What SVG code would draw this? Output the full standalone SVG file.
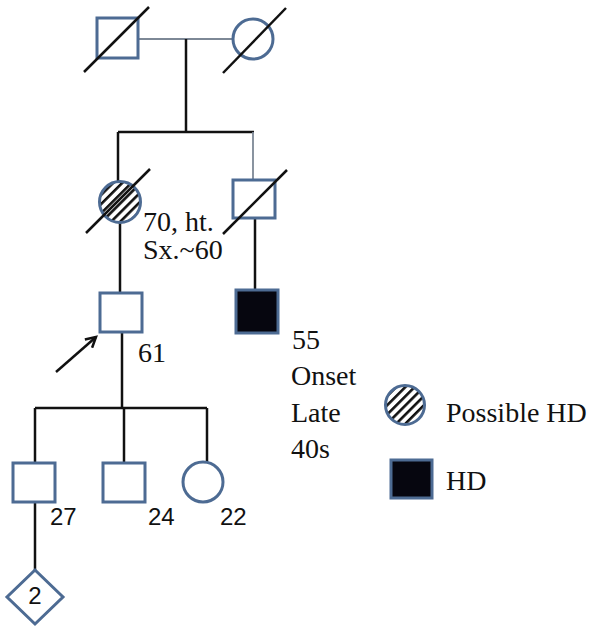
<svg xmlns="http://www.w3.org/2000/svg" width="594" height="627" viewBox="0 0 594 627">
<style>
.sym{fill:#fff;stroke:#4d6b93;stroke-width:3}
.aff{fill:#06060f;stroke:#4d6b93;stroke-width:3}
.ln{stroke:#111;stroke-width:2.5;fill:none}
.thin{stroke:#7d8896;stroke-width:1.8;fill:none}
.dec{stroke:#111;stroke-width:2.5}
.t{font-family:"Liberation Serif",serif;font-size:28px;fill:#111}
.s{font-family:"Liberation Sans",sans-serif;font-size:24px;fill:#111}
</style>
<defs>
<pattern id="hatch" patternUnits="userSpaceOnUse" width="6.5" height="6.5" patternTransform="rotate(-45)">
<rect width="6.5" height="6.5" fill="#fff"/>
<rect x="0" y="0" width="6.5" height="2.6" fill="#111"/>
</pattern>
<marker id="ah" markerWidth="14" markerHeight="14" refX="11" refY="7" orient="auto" markerUnits="userSpaceOnUse">
<path d="M1,1.5 L11,7 L1,12.5" fill="none" stroke="#111" stroke-width="2.5"/>
</marker>
</defs>
<g id="connectors">
<line class="thin" x1="138" y1="39" x2="233" y2="39"/>
<line class="ln" x1="186" y1="39" x2="186" y2="132"/>
<line class="ln" x1="118" y1="132" x2="254" y2="132"/>
<line class="ln" x1="118" y1="132" x2="118" y2="181"/>
<line class="thin" x1="253" y1="132" x2="253" y2="180"/>
<line class="ln" x1="120" y1="223" x2="120" y2="293"/>
<line class="ln" x1="255" y1="218" x2="255" y2="290"/>
<line class="ln" x1="122" y1="332" x2="122" y2="408"/>
<line class="ln" x1="35" y1="408" x2="207" y2="408"/>
<line class="ln" x1="124" y1="408" x2="124" y2="463"/>
<line class="ln" x1="35" y1="408" x2="35" y2="463"/>
<line class="ln" x1="207" y1="408" x2="207" y2="462"/>
<line class="ln" x1="35" y1="502" x2="35" y2="570"/>
<line class="ln" x1="56" y1="372" x2="96" y2="337" marker-end="url(#ah)"/>
</g>
<g id="grandfather">
<rect class="sym" x="97" y="18" width="41" height="40"/>
<line class="dec" x1="84" y1="72" x2="149" y2="7"/>
</g>
<g id="grandmother">
<circle class="sym" cx="253" cy="39" r="20"/>
<line class="dec" x1="223" y1="73" x2="286" y2="8"/>
</g>
<g id="mother">
<circle cx="120" cy="202" r="20.5" fill="url(#hatch)" stroke="#4d6b93" stroke-width="3"/>
<line class="dec" x1="86" y1="233" x2="150" y2="169"/>
<text class="t" x="143" y="231">70, ht.</text>
<text class="t" x="143" y="259">Sx.~60</text>
</g>
<g id="uncle">
<rect class="sym" x="233" y="180" width="42" height="38"/>
<line class="dec" x1="223" y1="234" x2="287" y2="170"/>
</g>
<g id="proband">
<rect class="sym" x="100" y="293" width="42" height="39"/>
<text class="t" x="138" y="362">61</text>
</g>
<g id="cousin">
<rect class="aff" x="236" y="290" width="42" height="43"/>
<text class="t" x="292" y="349">55</text>
<text class="t" x="291" y="385">Onset</text>
<text class="t" x="291" y="422">Late</text>
<text class="t" x="291" y="458">40s</text>
</g>
<g id="son27">
<rect class="sym" x="13" y="463" width="42" height="39"/>
<text class="s" x="50" y="525">27</text>
</g>
<g id="son24">
<rect class="sym" x="103" y="463" width="42" height="39"/>
<text class="s" x="148" y="525">24</text>
</g>
<g id="daughter22">
<circle class="sym" cx="203" cy="482" r="20"/>
<text class="s" x="220" y="525">22</text>
</g>
<g id="grandchildren">
<polygon class="sym" points="35,570 63,597 35,624 7,597"/>
<text class="s" x="35" y="604" text-anchor="middle" font-size="20">2</text>
</g>
<g id="legend">
<circle cx="405" cy="405" r="19.5" fill="url(#hatch)" stroke="#4d6b93" stroke-width="3"/>
<text class="t" x="446" y="422">Possible HD</text>
<rect class="aff" x="391" y="460" width="41" height="38"/>
<text class="t" x="446" y="490">HD</text>
</g>
</svg>
